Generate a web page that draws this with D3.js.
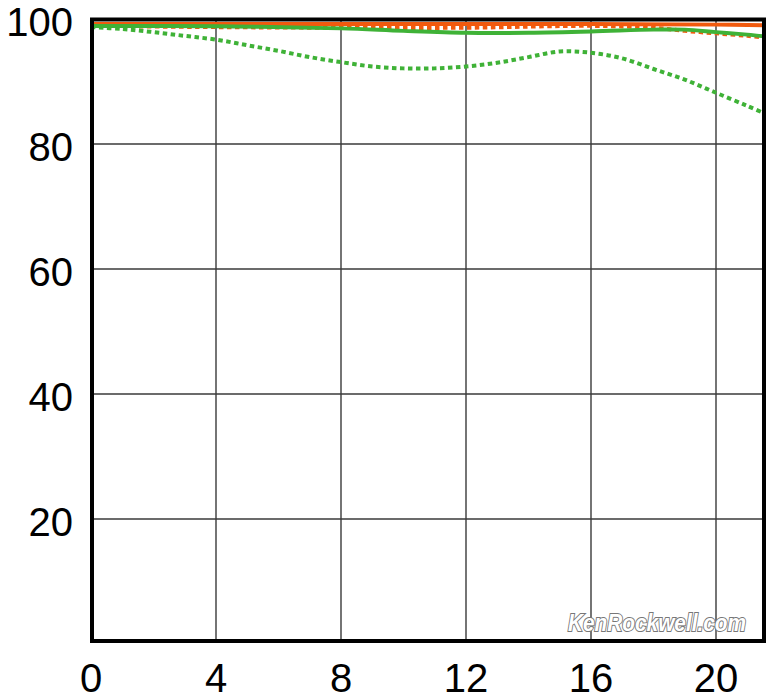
<!DOCTYPE html>
<html>
<head>
<meta charset="utf-8">
<script src="https://cdn.jsdelivr.net/npm/d3@7"></script>
<style>
  body { margin: 0; background: #fff; }
  svg text { font-family: "Liberation Sans", Arial, sans-serif; }
</style>
</head>
<body>
<script>
// MTF values (image height in mm vs contrast %)
const xTicks = [0, 4, 8, 12, 16, 20];
const yTicks = [20, 40, 60, 80, 100];

const orangeSolidX = [0, 4, 8, 12, 16, 20, 21.6];
const orangeSolidY = [99.2, 99.2, 99.2, 99.2, 99.2, 99.1, 99.0];

const orangeDotX = [0, 4, 8, 12, 16, 18, 19, 20, 21, 21.6];
const orangeDotY = [98.9, 98.7, 98.6, 98.6, 98.9, 98.6, 98.1, 97.7, 97.3, 97.0];

const greenSolidX = [0, 4, 8, 10, 12, 14, 16, 18, 19, 20, 21, 21.6];
const greenSolidY = [98.9, 98.85, 98.5, 98.1, 97.8, 97.8, 98.0, 98.3, 98.3, 97.9, 97.5, 97.2];

const greenDotX = [0, 1, 2, 3, 4, 5, 6, 7, 8, 9, 10, 11, 12, 13, 14, 15, 16, 17, 18, 19, 20, 21, 21.6];
const greenDotY = [98.7, 98.4, 97.9, 97.3, 96.7, 95.8, 94.9, 93.9, 93.1, 92.4, 92.1, 92.1, 92.4, 93.0,
  93.9, 94.8, 94.6, 93.7, 92.0, 90.3, 88.2, 86.1, 84.8];

const width = 776;
const height = 700;
const plotLeft = 92, plotRight = 764, plotTop = 19.5, plotBottom = 641;

const x = d3.scaleLinear().domain([0, 20]).range([91, 716]);
const y = d3.scaleLinear().domain([0, 100]).range([644, 19]);

const svg = d3.select("body").append("svg")
  .attr("width", width)
  .attr("height", height);

// grid
const grid = svg.append("g");
grid.selectAll("line.v").data(xTicks.filter(d => d > 0)).join("line")
  .attr("class", "v")
  .attr("x1", d => x(d)).attr("x2", d => x(d))
  .attr("y1", plotTop).attr("y2", plotBottom)
  .attr("stroke", "#3a3a3a").attr("stroke-width", 1.4);
grid.selectAll("line.h").data(yTicks.filter(d => d < 100)).join("line")
  .attr("class", "h")
  .attr("x1", plotLeft).attr("x2", plotRight)
  .attr("y1", d => y(d)).attr("y2", d => y(d))
  .attr("stroke", "#3a3a3a").attr("stroke-width", 1.4);

// curves
const line = d3.line()
  .x(d => x(d[0]))
  .y(d => y(d[1]))
  .curve(d3.curveCatmullRom);

const zip = (xs, ys) => xs.map((v, i) => [v, ys[i]]);

const series = [
  { pts: zip(orangeDotX, orangeDotY), color: "#f15a0e", dash: "4.5,3.5" },
  { pts: zip(greenDotX, greenDotY), color: "#3fb237", dash: "4.5,3.5" },
  { pts: zip(orangeSolidX, orangeSolidY), color: "#f15a0e", dash: null },
  { pts: zip(greenSolidX, greenSolidY), color: "#3fb237", dash: null }
];

svg.append("defs").append("clipPath").attr("id", "plot")
  .append("rect")
  .attr("x", plotLeft).attr("y", plotTop)
  .attr("width", plotRight - plotLeft).attr("height", plotBottom - plotTop);

svg.append("g").attr("clip-path", "url(#plot)")
  .selectAll("path").data(series).join("path")
  .attr("d", d => line(d.pts))
  .attr("fill", "none")
  .attr("stroke", d => d.color)
  .attr("stroke-width", 4)
  .attr("stroke-dasharray", d => d.dash);

// frame
svg.append("rect")
  .attr("x", plotLeft).attr("y", plotTop)
  .attr("width", plotRight - plotLeft).attr("height", plotBottom - plotTop)
  .attr("fill", "none")
  .attr("stroke", "#000")
  .attr("stroke-width", 4);

// tick labels
svg.append("g").selectAll("text").data(yTicks).join("text")
  .attr("x", 73)
  .attr("y", d => y(d) + 17)
  .attr("text-anchor", "end")
  .attr("font-size", 40)
  .attr("fill", "#000")
  .text(d => d);

svg.append("g").selectAll("text").data(xTicks).join("text")
  .attr("x", d => x(d))
  .attr("y", 692)
  .attr("text-anchor", "middle")
  .attr("font-size", 40)
  .attr("fill", "#000")
  .text(d => d);

// watermark
svg.append("text")
  .attr("x", 657)
  .attr("y", 631)
  .attr("text-anchor", "middle")
  .attr("font-size", 24)
  .attr("font-weight", "bold")
  .attr("font-style", "italic")
  .attr("textLength", 178)
  .attr("lengthAdjust", "spacingAndGlyphs")
  .attr("fill", "#fff")
  .attr("stroke", "#777")
  .attr("stroke-width", 2)
  .attr("paint-order", "stroke")
  .text("KenRockwell.com");
</script>
</body>
</html>
